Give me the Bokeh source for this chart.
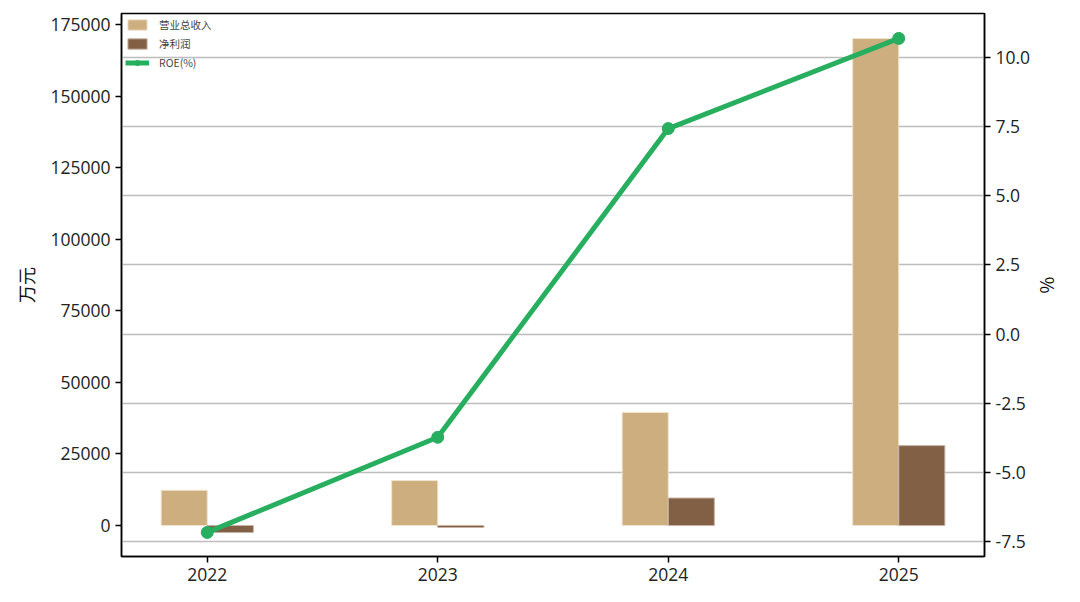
from bokeh.plotting import figure
from bokeh.models import Range1d, LinearAxis, FixedTicker, NumeralTickFormatter, ColumnDataSource, Legend, LegendItem, Grid
from bokeh.embed import file_html
from bokeh.resources import INLINE

years = [2022, 2023, 2024, 2025]
year_labels = ["2022", "2023", "2024", "2025"]
revenue = [12300, 15700, 39500, 170100]
net_profit = [-2450, -700, 9600, 27900]
roe = [-7.17, -3.73, 7.43, 10.69]

FONT = "Open Sans"
CJK = "Noto Sans CJK SC"

p = figure(width=1064, height=586, output_backend="svg", toolbar_location=None,
           x_range=Range1d(2022 - 0.372, 2025 + 0.372),
           y_range=Range1d(-10830, 178840),
           min_border_left=121, min_border_right=78, min_border_top=13, min_border_bottom=30)
p.extra_y_ranges = {"roe": Range1d(-8.04, 11.59)}

p.outline_line_color = "black"
p.outline_line_width = 1.5
p.xgrid.visible = False
p.ygrid.visible = False

src = ColumnDataSource(dict(x=years, rev=revenue, net=net_profit, roe=roe))

r_rev = p.vbar(x=[y - 0.1 for y in years], top=revenue, bottom=0, width=0.2,
               fill_color="#CDAE7E", line_color="#EFE3CF", line_width=1)
r_net = p.vbar(x=[y + 0.1 for y in years], top=net_profit, bottom=0, width=0.2,
               fill_color="#826045", line_color="#C7B3A3", line_width=1)

ax_r = LinearAxis(y_range_name="roe", axis_label="%")
ax_r.ticker = FixedTicker(ticks=[-7.5, -5.0, -2.5, 0.0, 2.5, 5.0, 7.5, 10.0])
ax_r.formatter = NumeralTickFormatter(format="0.0")
p.add_layout(ax_r, "right")

g = Grid(dimension=1, ticker=ax_r.ticker, y_range_name="roe",
         grid_line_color="#bdbdbd", grid_line_width=1.5)
p.add_layout(g, "center")

r_line = p.line("x", "roe", source=src, y_range_name="roe", line_color="#27AE5F", line_width=5)
r_pts = p.scatter("x", "roe", source=src, y_range_name="roe", size=12,
                  fill_color="#27AE5F", line_color="#27AE5F")

p.yaxis[0].axis_label = "万元"
p.yaxis[0].ticker = FixedTicker(ticks=[0, 25000, 50000, 75000, 100000, 125000, 150000, 175000])
p.yaxis[0].formatter = NumeralTickFormatter(format="0")
p.xaxis[0].ticker = FixedTicker(ticks=years)
p.xaxis[0].major_label_overrides = {y: l for y, l in zip(years, year_labels)}

for ax in p.axis:
    ax.major_label_text_font = FONT
    ax.major_label_text_font_size = "17.5px"
    ax.major_label_text_color = "#222222"
    ax.axis_label_text_font = CJK
    ax.axis_label_text_font_size = "18px"
    ax.axis_label_text_font_style = "normal"
    ax.axis_label_text_color = "#111111"
    ax.minor_tick_line_color = None
    ax.major_tick_out = 6
    ax.major_tick_in = 0
    ax.major_tick_line_width = 1.5
    ax.axis_line_width = 1.5
    ax.axis_line_color = "black"
    ax.major_label_standoff = 5

ax_r.axis_label_standoff = 2
p.yaxis[0].axis_label_standoff = 8

legend = Legend(items=[
    LegendItem(label="营业总收入", renderers=[r_rev]),
    LegendItem(label="净利润", renderers=[r_net]),
    LegendItem(label="ROE(%)", renderers=[r_line, r_pts]),
], location="top_left")
legend.label_text_font = CJK
legend.label_text_font_size = "10.5px"
legend.glyph_width = 24
legend.glyph_height = 13
legend.label_height = 13
legend.label_standoff = 10
legend.spacing = 4
legend.padding = 4
legend.margin = 4
legend.border_line_color = None
legend.background_fill_alpha = 0.0
p.add_layout(legend, "center")

open("out.html", "w").write(file_html(p, INLINE))
